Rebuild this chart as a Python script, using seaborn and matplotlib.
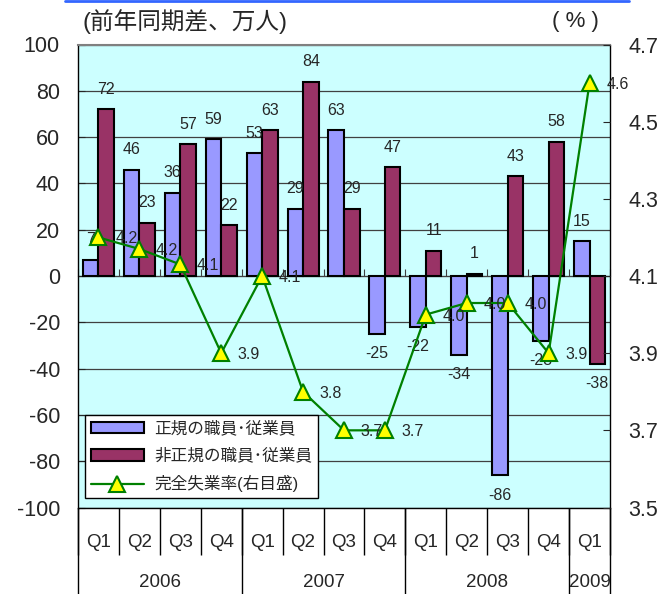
import numpy as np
import pandas as pd
import matplotlib
matplotlib.use('Agg')
import matplotlib.pyplot as plt
from matplotlib.patches import Patch
from matplotlib.lines import Line2D
from matplotlib.ticker import FormatStrFormatter
import seaborn as sns

# data (year-on-year change, 10k persons / unemployment rate %)
periods = ['2006Q1', '2006Q2', '2006Q3', '2006Q4',
           '2007Q1', '2007Q2', '2007Q3', '2007Q4',
           '2008Q1', '2008Q2', '2008Q3', '2008Q4',
           '2009Q1']
quarter_labels = ['Q1', 'Q2', 'Q3', 'Q4'] * 3 + ['Q1']
years = ['2006', '2007', '2008', '2009']
regular = [7, 46, 36, 59, 53, 29, 63, -25, -22, -34, -86, -28, 15]
non_regular = [72, 23, 57, 22, 63, 84, 29, 47, 11, 1, 43, 58, -38]
unemp_rate = [4.2, 4.17, 4.13, 3.9, 4.1, 3.8, 3.7, 3.7, 4.0, 4.03, 4.03, 3.9, 4.6]

series_names = ['正規の職員･従業員', '非正規の職員･従業員']
rate_name = '完全失業率(右目盛)'
bar_colors = ['#9999FF', '#993366']
line_color = '#008000'

df = pd.DataFrame({
    'period': periods * 2,
    'value': regular + non_regular,
    'type': [series_names[0]] * len(periods) + [series_names[1]] * len(periods),
})

sns.set_style('white')
plt.rcParams['font.family'] = ['Liberation Sans', 'Noto Sans CJK JP']
plt.rcParams['axes.unicode_minus'] = False

fig = plt.figure(figsize=(6.7, 5.94), dpi=100)
ax = fig.add_axes([78 / 670, 1 - 507.5 / 594, 532 / 670, 463 / 594])
ax.set_facecolor('#CCFFFF')

sns.barplot(data=df, x='period', y='value', hue='type', order=periods,
            hue_order=series_names, palette=bar_colors, saturation=1,
            width=0.76, edgecolor='black', linewidth=1.5, legend=False, ax=ax)

for c in ax.containers:
    ax.bar_label(c, padding=9, fontsize=11.5)

ax.set_xlim(-0.5, len(periods) - 0.5)
ax.set_ylim(-100, 100)
ax.set_yticks(range(-100, 101, 20))
ax.yaxis.grid(True, color='#404040', lw=0.9)
ax.set_axisbelow(True)
ax.set_xlabel('')
ax.set_ylabel('')
ax.set_xticks(range(len(periods)))
ax.set_xticklabels(quarter_labels, fontsize=13.5)
ax.tick_params(axis='x', length=0, pad=19)
ax.tick_params(axis='y', direction='in', length=5, labelsize=15.5, pad=13, left=True)
for s in ['left', 'bottom', 'right']:
    ax.spines[s].set_color('black')
    ax.spines[s].set_linewidth(1)
ax.spines['top'].set_color('#808080')
ax.spines['top'].set_linewidth(1.5)

# category separators below the plot
bounds = np.arange(-0.5, len(periods), 1)
xt = ax.get_xaxis_transform()
ax.vlines(bounds, -0.103, 0, transform=xt, clip_on=False, color='black', lw=1)
year_pos = []
year_bounds = [len(periods) - 0.5]
for y in years:
    idx = [i for i, p in enumerate(periods) if p.startswith(y)]
    year_pos.append(np.mean(idx))
    year_bounds.append(idx[0] - 0.5)
ax.vlines(year_bounds, -0.2, 0, transform=xt, clip_on=False, color='black', lw=1)
for y, xpos in zip(years, year_pos):
    ax.text(xpos, -0.161, y, transform=xt, ha='center', va='center', fontsize=13.5)

# tick marks on the zero line
zero_axis = ax.secondary_xaxis(0.5)
zero_axis.set_xticks(bounds)
zero_axis.tick_params(axis='x', direction='out', length=5, labeltop=False,
                      labelbottom=False, color='#404040')
for s in zero_axis.spines.values():
    s.set_color('#404040')

# unemployment rate on the right axis
ax2 = ax.twinx()
sns.lineplot(x=np.arange(len(periods)), y=unemp_rate, ax=ax2, color=line_color,
             lw=1.6, marker='^', markersize=11, markerfacecolor='#FFFF00',
             markeredgecolor=line_color, markeredgewidth=1.5)
ax2.set_ylim(3.5, 4.7)
ax2.set_yticks(np.arange(3.5, 4.71, 0.2))
ax2.yaxis.set_major_formatter(FormatStrFormatter('%.1f'))
ax2.tick_params(axis='y', direction='in', length=5, labelsize=15.5, pad=13, right=True)
ax2.set_ylabel('')
for s in ax2.spines.values():
    s.set_visible(False)
for xpos, r in zip(np.arange(len(periods)), unemp_rate):
    ax2.annotate(f'{r:.1f}', (xpos, r), xytext=(12, 0), textcoords='offset points',
                 ha='left', va='center_baseline', fontsize=11.5)

handles = [
    Patch(facecolor=bar_colors[0], edgecolor='black', lw=1.5, label=series_names[0]),
    Patch(facecolor=bar_colors[1], edgecolor='black', lw=1.5, label=series_names[1]),
    Line2D([], [], color=line_color, lw=1.6, marker='^', markersize=11,
           markerfacecolor='#FFFF00', markeredgecolor=line_color,
           markeredgewidth=1.5, label=rate_name),
]
leg = ax2.legend(handles=handles, loc='lower left', bbox_to_anchor=(0.013, 0.02),
                 borderaxespad=0, fancybox=False, edgecolor='black', framealpha=1,
                 fontsize=12, handlelength=3.2, handletextpad=0.6,
                 labelspacing=0.7, borderpad=0.35)
leg.get_frame().set_linewidth(1)

fig.text(82 / 670, 1 - 22 / 594, '(前年同期差、万人)', ha='left', va='center', fontsize=17)
fig.text(575 / 670, 1 - 22 / 594, '( % )', ha='center', va='center', fontsize=16)
fig.add_artist(Line2D([65 / 670, 629 / 670], [1 - 0.8 / 594] * 2, color='#3366FF', lw=2))

fig.savefig('out.png', dpi=100)
